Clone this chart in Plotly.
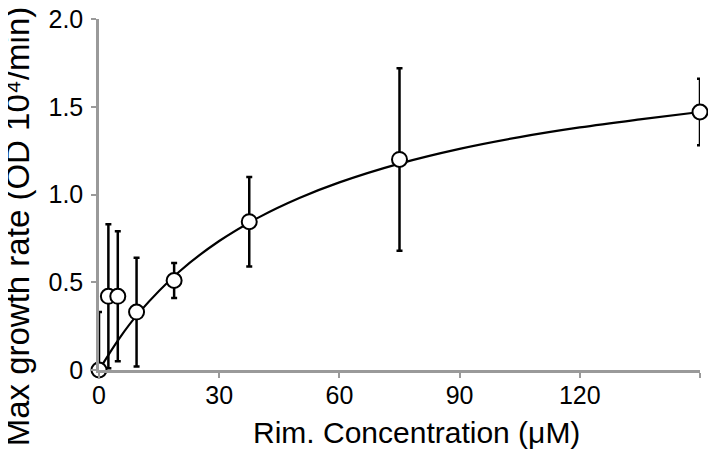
import plotly.graph_objects as go

# Data
conc = [0, 2.34, 4.69, 9.375, 18.75, 37.5, 75, 150]
rate = [0.0, 0.42, 0.42, 0.33, 0.51, 0.845, 1.20, 1.47]
err_plus = [0.33, 0.41, 0.37, 0.31, 0.10, 0.255, 0.52, 0.19]
err_minus = [0.0, 0.41, 0.37, 0.31, 0.10, 0.255, 0.52, 0.19]

# Fitted curve
fit_x = [0, 5, 10, 20, 30, 40, 50, 60, 75, 90, 105, 120, 135, 150]
fit_y = [0.0, 0.178, 0.327, 0.56, 0.735, 0.871, 0.98, 1.069, 1.176, 1.26, 1.327, 1.382, 1.428, 1.47]

x_ticks = [0, 30, 60, 90, 120, 150]
x_ticktext = ["0", "30", "60", "90", "120", ""]
y_ticks = [0, 0.5, 1.0, 1.5, 2.0]
y_ticktext = ["0", "0.5", "1.0", "1.5", "2.0"]

x_title = "Rim. Concentration (μM)"
y_title = "Max growth rate (OD 10⁴/min)"

font = "Liberation Sans, Arial, Helvetica, sans-serif"

fig = go.Figure()
fig.add_trace(go.Scatter(
    x=fit_x, y=fit_y, mode="lines",
    line=dict(color="black", width=2.2, shape="spline"),
    hoverinfo="skip", showlegend=False, cliponaxis=False,
))
fig.add_trace(go.Scatter(
    x=conc, y=rate, mode="markers",
    marker=dict(symbol="circle", size=15, color="white",
                line=dict(color="black", width=2)),
    error_y=dict(type="data", symmetric=False, array=err_plus,
                 arrayminus=err_minus, color="black", thickness=2.5, width=3),
    showlegend=False, cliponaxis=False,
))

axis_common = dict(
    showgrid=False, zeroline=False, showline=True, automargin=False,
    linecolor="#9a9a9a", linewidth=2.5,
    ticks="outside", ticklen=5, tickwidth=2, tickcolor="#9a9a9a",
    tickfont=dict(size=25, family=font, color="black"),
    ticklabeloverflow="allow",
)

# page body adds an 8px offset; figure is sized to fill the 716x457 window
fig.update_layout(
    width=708, height=449,
    margin=dict(l=91, r=16, t=11, b=87),
    plot_bgcolor="white", paper_bgcolor="white",
    font=dict(family=font, color="black", size=25),
    xaxis=dict(range=[0, 150], tickvals=x_ticks, ticktext=x_ticktext,
               ticklabelstandoff=-4, **axis_common),
    yaxis=dict(range=[0, 2.0], tickvals=y_ticks, ticktext=y_ticktext,
               ticklabelstandoff=3, **axis_common),
    annotations=[
        dict(text=x_title, xref="paper", yref="paper", x=0.5275, y=-0.178,
             xanchor="center", yanchor="middle", showarrow=False,
             font=dict(size=30, family=font, color="black")),
        dict(text=y_title, xref="paper", yref="paper", x=-0.136, y=0.410,
             xanchor="center", yanchor="middle", showarrow=False, textangle=-90,
             font=dict(size=33, family=font, color="black")),
    ],
)

fig.write_html("out.html")
